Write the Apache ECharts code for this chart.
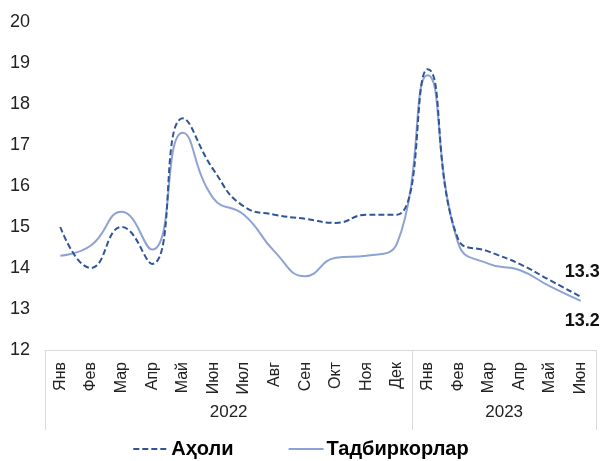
<!DOCTYPE html>
<html>
<head>
<meta charset="utf-8">
<script src="https://cdn.jsdelivr.net/npm/echarts@6/dist/echarts.min.js"></script>
<style>html,body{margin:0;padding:0;background:#fff;}#c{width:601px;height:461px;}</style>
</head>
<body>
<div id="c"></div>
<script>
const months = ['Янв','Фев','Мар','Апр','Май','Июн','Июл','Авг','Сен','Окт','Ноя','Дек','Янв','Фев','Мар','Апр','Май','Июн'];
const years = ['2022','2023'];
const yearSpans = [12, 6];
const aholi = [15.0,14.0,15.0,14.1,17.65,16.4,15.5,15.3,15.2,15.1,15.3,15.3,18.85,14.7,14.4,14.1,13.7,13.3];
const tadbirkorlar = [14.3,14.55,15.37,14.45,17.3,15.7,15.3,14.4,13.8,14.25,14.3,14.6,18.7,14.6,14.1,13.95,13.55,13.2];
const yTicks = {min:12, max:20, interval:1};

// helper half-slot axis for year labels and separators
const half = new Array(months.length*2+1).fill('');
const sepIdx = [0];
let acc = 0;
years.forEach((y,i)=>{ half[(acc*2)+yearSpans[i]] = y; acc += yearSpans[i]; sepIdx.push(acc*2); });

const font = 'Liberation Sans, Arial, sans-serif';
const chart = echarts.init(document.getElementById('c'));
chart.setOption({
  animation:false,
  textStyle:{fontFamily:font},
  grid:{left:45,right:5,top:22,bottom:111},
  legend:{top:434,left:'center',itemWidth:35,itemHeight:14,itemGap:54,
    itemStyle:{opacity:0},
    textStyle:{fontFamily:font,fontSize:20,fontWeight:'bold',color:'#000',padding:[0,0,0,-2]},
    data:['Аҳоли','Тадбиркорлар']},
  xAxis:[{type:'category',data:months,boundaryGap:true,
    axisLine:{lineStyle:{color:'#d9d9d9',width:1}},axisTick:{show:false},
    axisLabel:{rotate:90,interval:0,fontSize:16,color:'#222',margin:12,fontFamily:font}},
   {type:'category',data:half,boundaryGap:false,position:'bottom',
    axisLine:{show:false},
    axisTick:{show:true,length:80,interval:(i)=>sepIdx.indexOf(i)>=0,lineStyle:{color:'#d9d9d9'}},
    axisLabel:{interval:0,fontSize:17,color:'#222',margin:54,fontFamily:font}}],
  yAxis:{type:'value',min:yTicks.min,max:yTicks.max,interval:yTicks.interval,
    splitLine:{show:false},axisLine:{show:false},axisTick:{show:false},
    axisLabel:{align:'left',margin:35,fontSize:18,color:'#222',fontFamily:font}},
  series:[
   {name:'Аҳоли',type:'line',data:aholi,smooth:0.5,symbol:'none',
    lineStyle:{color:'#2F5597',width:2,type:[6,3]},itemStyle:{color:'#2F5597'},
    endLabel:{show:true,offset:[-24,-25],fontSize:18,fontWeight:'bold',color:'#111',fontFamily:font,
      formatter:(p)=>p.value.toFixed(1)},z:3},
   {name:'Тадбиркорлар',type:'line',data:tadbirkorlar,smooth:0.5,symbol:'none',
    lineStyle:{color:'#8FA2D4',width:2},itemStyle:{color:'#8FA2D4'},
    endLabel:{show:true,offset:[-24,20],fontSize:18,fontWeight:'bold',color:'#111',fontFamily:font,
      formatter:(p)=>p.value.toFixed(1)},z:2}
  ]
});
</script>
</body>
</html>
